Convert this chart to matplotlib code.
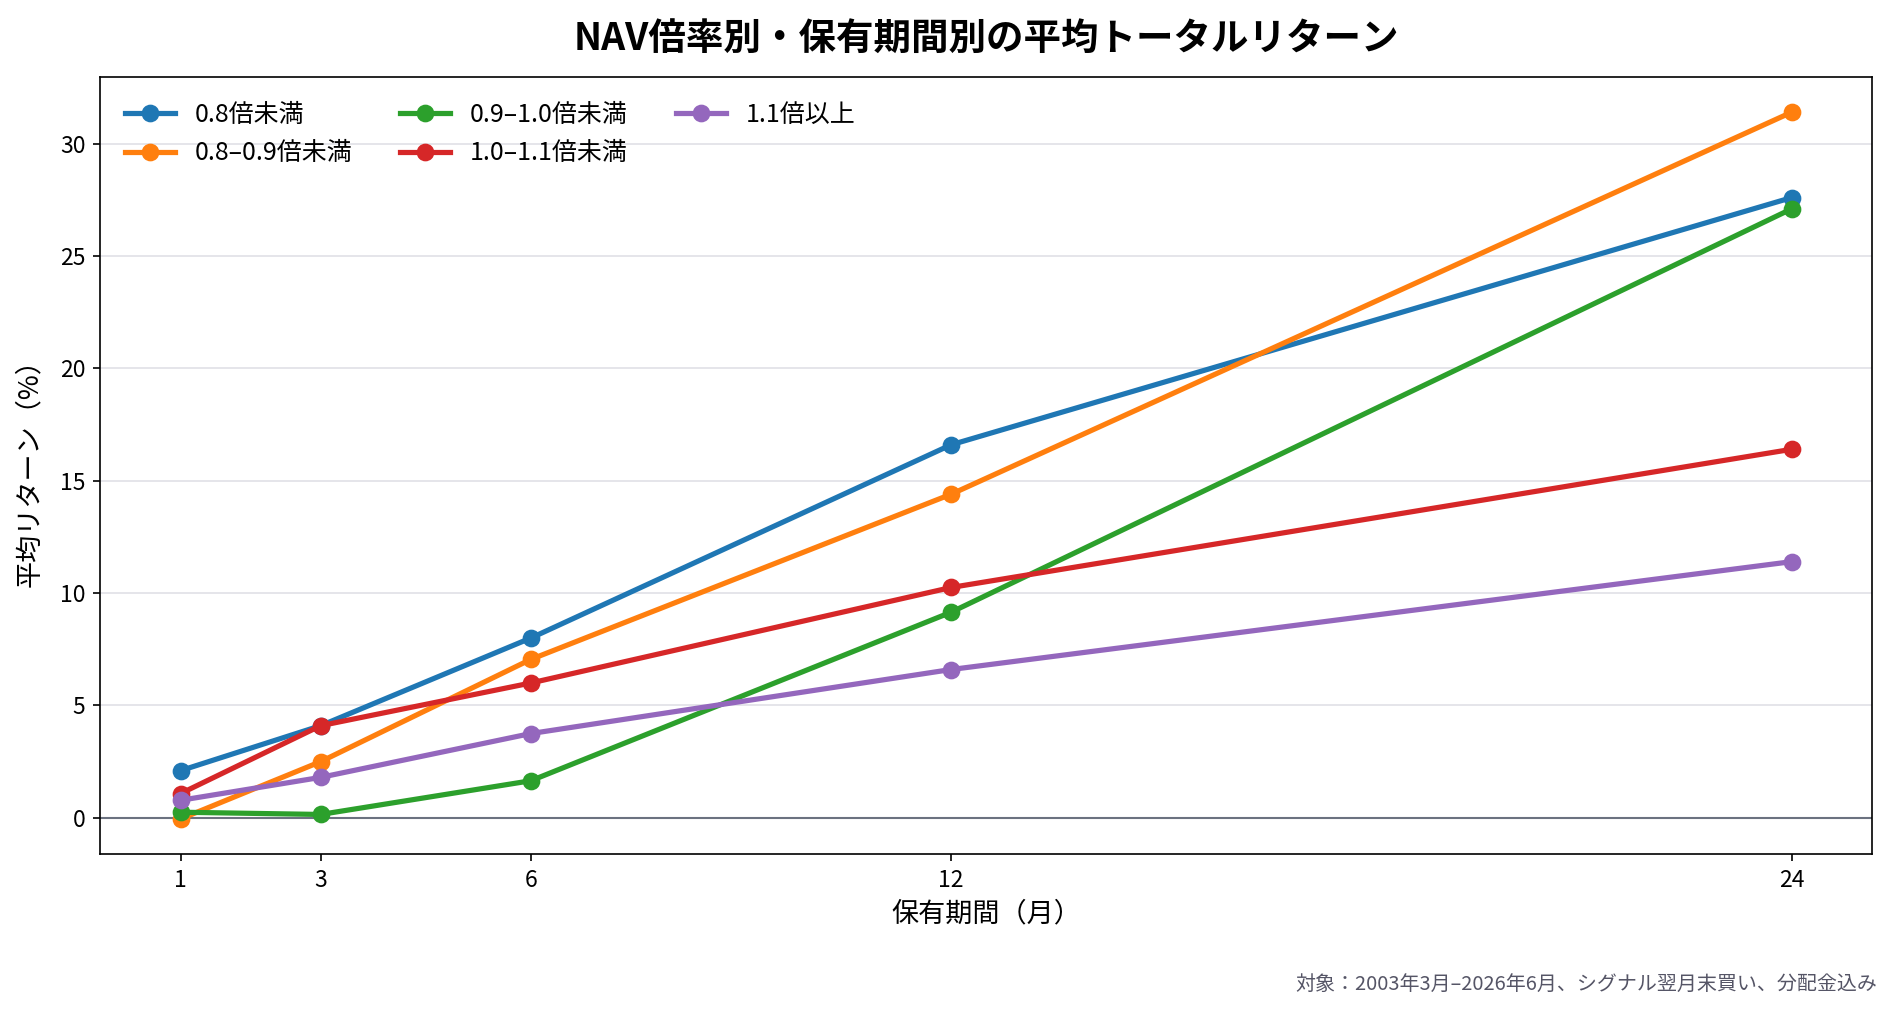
import matplotlib
matplotlib.use('Agg')
import matplotlib.pyplot as plt

plt.rcParams['font.family'] = ['Noto Sans CJK JP', 'DejaVu Sans']

# 保有期間（月）
periods = [1, 3, 6, 12, 24]

series_labels = ['0.8倍未満', '0.8–0.9倍未満', '0.9–1.0倍未満', '1.0–1.1倍未満', '1.1倍以上']
ret_lt08 = [2.1, 4.1, 8.0, 16.6, 27.6]
ret_08_09 = [-0.05, 2.5, 7.05, 14.4, 31.4]
ret_09_10 = [0.25, 0.15, 1.65, 9.15, 27.1]
ret_10_11 = [1.08, 4.1, 6.0, 10.25, 16.4]
ret_ge11 = [0.78, 1.8, 3.75, 6.6, 11.4]

colors = ['#1f77b4', '#ff7f0e', '#2ca02c', '#d62728', '#9467bd']

fig = plt.figure(figsize=(1897 / 150, 1011 / 150), dpi=150)
ax = fig.add_axes([0.0527, 0.155, 0.9343, 0.769])

ax.axhline(0, color='#6b7280', linewidth=1.0, zorder=1)
for lab, vals, c in zip(series_labels,
                        [ret_lt08, ret_08_09, ret_09_10, ret_10_11, ret_ge11],
                        colors):
    ax.plot(periods, vals, marker='o', color=c, linewidth=2.5,
            markersize=7.5, label=lab, zorder=3)

ax.set_xticks(periods)
ax.set_xticklabels([str(p) for p in periods])
ax.tick_params(labelsize=11)
ax.grid(True, axis='y', color='#e0e0e6', linewidth=0.8)
ax.set_axisbelow(True)

ax.set_xlabel('保有期間（月）', fontsize=13)
ax.set_ylabel('平均リターン（%）', fontsize=13, labelpad=8)
ax.set_title('NAV倍率別・保有期間別の平均トータルリターン', fontsize=18,
             fontweight='bold', pad=13)

ax.legend(loc='upper left', ncol=3, frameon=False, fontsize=12,
          columnspacing=1.9, handlelength=2.0, borderaxespad=0.6,
          labelspacing=0.5)

fig.text(0.9898, 0.016, '対象：2003年3月–2026年6月、シグナル翌月末買い、分配金込み',
         ha='right', va='bottom', fontsize=9.6, color='#555566')

fig.savefig('out.png', dpi=150)
